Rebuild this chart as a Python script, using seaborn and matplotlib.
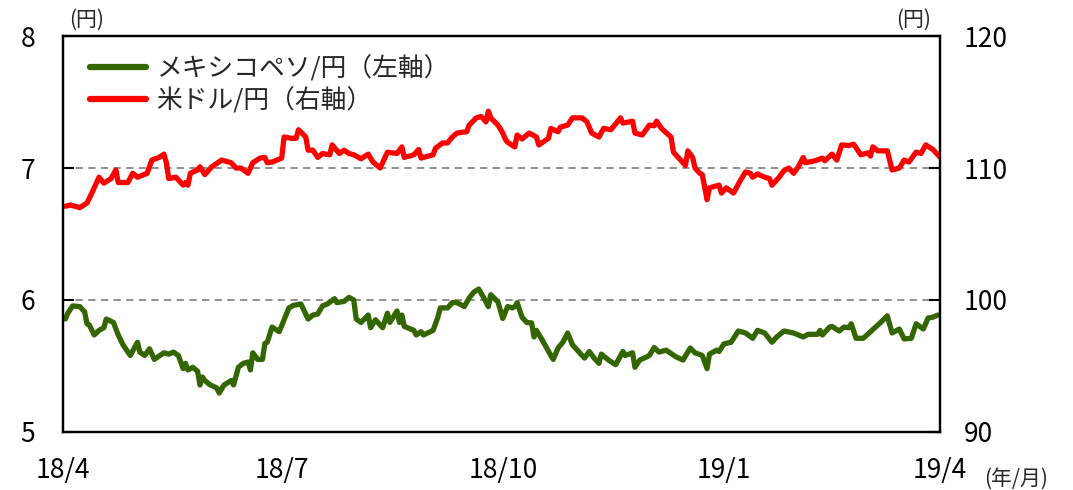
import pandas as pd
import matplotlib
matplotlib.use("Agg")
import matplotlib.pyplot as plt
import matplotlib.dates as mdates
from matplotlib.ticker import FuncFormatter
import seaborn as sns

# --- Data ---
start_date = "2018-04-01"

# USD/JPY (right axis), days since start
usd_days = [1, 3, 7, 10, 12, 15, 17, 20, 22, 23, 27, 29, 31, 35, 37, 40, 42, 43, 44, 47,
            50, 51, 52, 53, 56, 57, 59, 62, 66, 70, 72, 74, 77, 79, 82, 84, 85, 87, 91, 92,
            95, 97, 98, 101, 102, 104, 106, 108, 111, 112, 115, 117, 119, 121, 124, 127, 129, 132, 135, 139,
            141, 142, 146, 148, 149, 154, 155, 158, 160, 162, 164, 168, 169, 172, 174, 176, 177, 178, 181, 183,
            184, 185, 188, 189, 191, 194, 197, 198, 202, 203, 206, 207, 210, 212, 213, 216, 218, 220, 223, 225,
            228, 232, 233, 237, 238, 241, 244, 246, 247, 249, 253, 254, 256, 259, 260, 262, 263, 265, 266, 268,
            269, 273, 274, 276, 279, 282, 284, 286, 287, 289, 292, 294, 295, 298, 300, 302, 304, 306, 308, 309,
            313, 316, 317, 320, 322, 324, 327, 329, 332, 335, 336, 337, 339, 343, 345, 348, 350, 352, 355, 357,
            359, 362, 365]
usd_jpy = [107.1, 107.2, 107.0, 107.35, 108.1, 109.3, 108.85, 109.2, 109.85, 108.9, 108.9, 109.6, 109.3, 109.6, 110.6, 110.8, 111.05, 110.4, 109.2, 109.3,
           108.7, 108.9, 108.7, 109.6, 109.85, 110.1, 109.5, 110.1, 110.6, 110.4, 110.0, 110.0, 109.6, 110.4, 110.75, 110.8, 110.4, 110.45, 110.75, 112.35,
           112.25, 112.25, 112.9, 112.35, 111.35, 111.35, 110.8, 111.1, 111.0, 111.75, 111.1, 111.35, 111.1, 111.0, 110.7, 111.05, 110.45, 110.0, 111.2, 111.1,
           111.6, 110.8, 111.0, 111.4, 110.75, 111.0, 111.5, 111.9, 111.9, 112.35, 112.65, 112.75, 113.25, 113.8, 113.9, 113.5, 114.3, 113.8, 113.25, 112.65,
           112.2, 111.95, 111.6, 112.5, 112.2, 112.65, 112.35, 111.75, 112.25, 113.0, 112.75, 113.1, 113.25, 113.8, 113.8, 113.8, 113.5, 112.65, 112.35, 113.0,
           112.9, 113.8, 113.4, 113.55, 112.65, 112.5, 113.25, 113.2, 113.55, 113.0, 112.35, 111.2, 110.8, 110.2, 111.3, 110.8, 110.0, 109.6, 109.5, 107.6,
           108.5, 108.7, 108.1, 108.5, 108.1, 109.1, 109.7, 109.6, 109.3, 109.55, 109.3, 109.2, 108.7, 109.3, 109.8, 110.0, 109.6, 110.1, 110.8, 110.4,
           110.55, 110.75, 110.55, 111.05, 110.6, 111.75, 111.7, 111.8, 111.0, 111.15, 110.9, 111.6, 111.3, 111.3, 109.85, 110.0, 110.6, 110.45, 111.2, 111.1,
           111.75, 111.4, 110.8]

# MXN/JPY (left axis), days since start
mxn_days = [1, 2, 4, 7, 9, 10, 11, 13, 15, 17, 18, 21, 23, 25, 28, 31, 32, 34, 36, 38,
            42, 44, 46, 48, 50, 51, 52, 54, 56, 57, 58, 59, 61, 64, 65, 67, 70, 71, 73, 75,
            77, 78, 79, 81, 83, 84, 85, 87, 90, 92, 94, 96, 99, 102, 104, 106, 108, 110, 113, 114,
            117, 119, 121, 122, 124, 127, 128, 130, 133, 135, 136, 139, 140, 141, 142, 146, 147, 149, 150, 154,
            156, 157, 160, 162, 164, 167, 169, 171, 173, 175, 177, 178, 181, 183, 185, 187, 188, 189, 191, 193,
            195, 196, 197, 199, 203, 204, 206, 208, 210, 212, 214, 217, 219, 221, 223, 224, 227, 230, 233, 234,
            237, 238, 240, 243, 244, 246, 248, 251, 255, 258, 261, 263, 266, 268, 269, 272, 273, 275, 278, 281,
            284, 287, 289, 292, 295, 297, 300, 304, 308, 310, 314, 315, 316, 319, 320, 323, 325, 327, 328, 330,
            333, 336, 340, 343, 345, 347, 348, 350, 353, 355, 358, 360, 362, 364]
mxn_jpy = [5.856, 5.90, 5.955, 5.95, 5.91, 5.82, 5.81, 5.735, 5.77, 5.79, 5.856, 5.83, 5.735, 5.66, 5.58, 5.68, 5.605, 5.58, 5.63, 5.55,
           5.60, 5.59, 5.605, 5.58, 5.48, 5.52, 5.47, 5.49, 5.46, 5.356, 5.417, 5.39, 5.36, 5.333, 5.295, 5.356, 5.39, 5.356, 5.49, 5.52,
           5.53, 5.47, 5.60, 5.55, 5.55, 5.67, 5.68, 5.795, 5.76, 5.85, 5.94, 5.96, 5.97, 5.856, 5.886, 5.894, 5.955, 5.97, 6.01, 5.98,
           5.99, 6.02, 6.00, 5.856, 5.83, 5.886, 5.79, 5.85, 5.79, 5.90, 5.83, 5.917, 5.83, 5.886, 5.80, 5.77, 5.735, 5.76, 5.735, 5.77,
           5.87, 5.94, 5.94, 5.98, 5.98, 5.95, 6.015, 6.06, 6.083, 6.02, 5.95, 6.04, 5.985, 5.86, 5.95, 5.94, 5.95, 5.98, 5.87, 5.83,
           5.826, 5.72, 5.77, 5.71, 5.58, 5.55, 5.636, 5.68, 5.75, 5.66, 5.62, 5.56, 5.61, 5.56, 5.52, 5.59, 5.545, 5.51, 5.61, 5.58,
           5.60, 5.49, 5.545, 5.57, 5.58, 5.64, 5.605, 5.62, 5.57, 5.545, 5.636, 5.60, 5.58, 5.48, 5.59, 5.62, 5.61, 5.667, 5.68, 5.765,
           5.75, 5.71, 5.77, 5.75, 5.68, 5.72, 5.765, 5.75, 5.72, 5.74, 5.74, 5.77, 5.735, 5.795, 5.80, 5.765, 5.795, 5.79, 5.82, 5.71,
           5.71, 5.76, 5.826, 5.88, 5.75, 5.77, 5.78, 5.705, 5.71, 5.82, 5.78, 5.864, 5.87, 5.886]

mxn_label = "メキシコペソ/円（左軸）"
usd_label = "米ドル/円（右軸）"

# --- Build frames ---
base = pd.Timestamp(start_date)
usd_df = pd.DataFrame({"Date": base + pd.to_timedelta(usd_days, unit="D"), "Rate": usd_jpy})
mxn_df = pd.DataFrame({"Date": base + pd.to_timedelta(mxn_days, unit="D"), "Rate": mxn_jpy})

# --- Plot ---
sns.set_theme(style="white")
plt.rcParams["font.family"] = ["Noto Sans CJK JP", "DejaVu Sans"]

fig = plt.figure(figsize=(10.73, 4.9), dpi=100)
ax = fig.add_axes([0.0587, 0.1184, 0.8175, 0.8081])
ax2 = ax.twinx()

green = "#336600"
red = "#FF0000"

sns.lineplot(data=mxn_df, x="Date", y="Rate", ax=ax, color=green, linewidth=3.8,
             label=mxn_label, legend=False, solid_joinstyle="round", solid_capstyle="round")
sns.lineplot(data=usd_df, x="Date", y="Rate", ax=ax2, color=red, linewidth=3.8,
             label=usd_label, legend=False, solid_joinstyle="round", solid_capstyle="round")

ax.set_xlim(pd.Timestamp("2018-04-01"), pd.Timestamp("2019-04-01"))
ax.set_ylim(5, 8)
ax2.set_ylim(90, 120)
ax.set_yticks([5, 6, 7, 8])
ax2.set_yticks([90, 100, 110, 120])

# dashed reference lines
for v in [6, 7]:
    ax.axhline(v, color="#888888", linestyle=(0, (4, 3)), linewidth=1.3, zorder=0)

ax.xaxis.set_major_locator(mdates.MonthLocator(bymonth=[1, 4, 7, 10]))
ax.xaxis.set_major_formatter(FuncFormatter(
    lambda x, pos: f"{mdates.num2date(x).year % 100}/{mdates.num2date(x).month}"))

ax.set_xlabel("")
ax.set_ylabel("")
ax2.set_ylabel("")

for a in (ax, ax2):
    for s in a.spines.values():
        s.set_color("black")
        s.set_linewidth(1.6)
ax.tick_params(axis="x", direction="in", length=8, width=1, colors="black", labelsize=19, pad=18)
ax.tick_params(axis="y", direction="in", length=8, width=1.5, colors="black", labelsize=19, pad=20)
ax2.tick_params(axis="y", direction="in", length=8, width=1.5, colors="black", labelsize=19, pad=17)

h1, l1 = ax.get_legend_handles_labels()
h2, l2 = ax2.get_legend_handles_labels()
leg = ax2.legend(h1 + h2, l1 + l2, loc="upper left", bbox_to_anchor=(0.01, 0.995), frameon=False,
                 fontsize=18.5, handlelength=2.2, handletextpad=0.4, labelspacing=0.2, borderaxespad=0.3)
for line in leg.get_lines():
    line.set_linewidth(4.5)

fig.text(0.064, 0.960, "(円)", fontsize=15, ha="left", va="center")
fig.text(0.868, 0.960, "(円)", fontsize=15, ha="right", va="center")
fig.text(0.917, 0.022, "(年/月)", fontsize=15, ha="left", va="center")

fig.savefig("out.png", dpi=100)
